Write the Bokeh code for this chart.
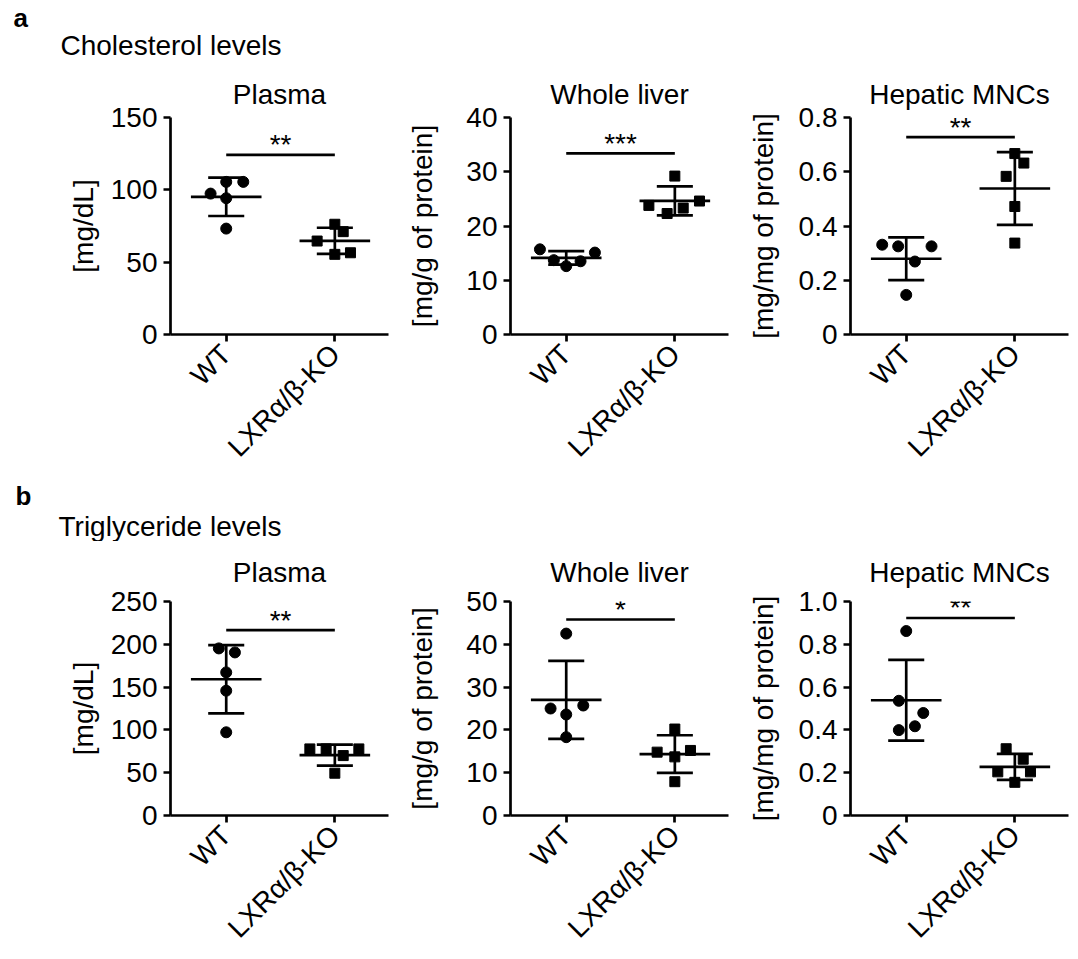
import math
import numpy as np
from bokeh.plotting import figure
from bokeh.models import Range1d, FixedTicker, ColumnDataSource, CustomJSTickFormatter, Title
from bokeh.layouts import row, column
from bokeh.core.properties import value
from bokeh.embed import file_html
from bokeh.resources import INLINE

# ---------------- data ----------------
groups = ["WT", "LXRα/β-KO"]
section_letters = ["a", "b"]
section_titles = ["Cholesterol levels", "Triglyceride levels"]
panel_titles = ["Plasma", "Whole liver", "Hepatic MNCs"]
y_labels = ["[mg/dL]", "[mg/g of protein]", "[mg/mg of protein]"]

chol_plasma_wt = [97.4, 105.5, 105.5, 94.2, 73.2]
chol_plasma_ko = [64.6, 76.2, 71.1, 55.4, 56.5]
chol_liver_wt = [15.7, 13.7, 12.6, 13.5, 15.1]
chol_liver_ko = [23.8, 29.2, 22.3, 23.3, 24.6]
chol_mnc_wt = [0.331, 0.325, 0.325, 0.269, 0.146]
chol_mnc_ko = [0.667, 0.632, 0.583, 0.472, 0.337]

tg_plasma_wt = [195.2, 190.5, 167.2, 145.8, 97.2]
tg_plasma_ko = [77.8, 77.8, 70.0, 77.8, 49.4]
tg_liver_wt = [42.5, 25.0, 25.7, 23.6, 18.3]
tg_liver_ko = [20.2, 14.8, 15.2, 13.7, 7.9]
tg_mnc_wt = [0.862, 0.536, 0.479, 0.399, 0.417]
tg_mnc_ko = [0.312, 0.263, 0.204, 0.204, 0.155]

significance = [["**", "***", "**"], ["**", "*", "**"]]
sig_bar_heights = [[124.2, 33.4, 0.728], [216.6, 45.8, 0.923]]
y_max = [[150, 40, 0.8], [250, 50, 1.0]]
y_step = [[50, 10, 0.2], [50, 10, 0.2]]

# horizontal scatter of the dots around each group position (layout only)
jitter = {
    "chol_plasma": ([-0.144, 0, 0.157, 0, 0], [-0.163, 0, 0.077, 0, 0.144]),
    "chol_liver": ([-0.242, -0.114, 0, 0.132, 0.264], [-0.239, 0, -0.071, 0.077, 0.227]),
    "chol_mnc": ([-0.221, -0.074, 0.233, 0.08, 0], [0, 0.083, -0.08, 0, 0]),
    "tg_plasma": ([-0.068, 0.08, 0, 0, 0], [-0.23, -0.08, 0.077, 0.221, 0]),
    "tg_liver": ([0, -0.144, 0.157, 0, 0], [0, -0.163, 0.144, 0, 0]),
    "tg_mnc": ([0, -0.068, 0.157, -0.068, 0.08], [-0.08, 0.077, -0.157, 0.144, 0]),
}

panel_data = [
    [("chol_plasma", chol_plasma_wt, chol_plasma_ko),
     ("chol_liver", chol_liver_wt, chol_liver_ko),
     ("chol_mnc", chol_mnc_wt, chol_mnc_ko)],
    [("tg_plasma", tg_plasma_wt, tg_plasma_ko),
     ("tg_liver", tg_liver_wt, tg_liver_ko),
     ("tg_mnc", tg_mnc_wt, tg_mnc_ko)],
]

# ---------------- styling / layout ----------------
FONT = "Liberation Sans"
FS = "28px"
LW = 2.7
X_START, X_END = 0.487, 2.494
FRAME_W = 218
left_borders = [170, 118, 118]
right_borders = [4, 4, 2]
top_borders = [55, 60]
frame_heights = [217, 214]
bottom_borders = [144, 144]
title_standoffs = [16, 27]
label_standoffs = [9, 25, 17]
TOTAL_W = sum(left_borders) + 3 * FRAME_W + sum(right_borders)
TEXT_SHIFT = 8  # compensation for where the svg text baseline lands

# header strips: (height, letter x, letter baseline from top, title x, title baseline from top)
headers = [(62, 13, 25, 60, 53), (63, 15, 25, 58, 56)]

x_fmt = CustomJSTickFormatter(args=dict(labels=groups),
                              code="return labels[Math.round(tick) - 1];")
frac_fmt = CustomJSTickFormatter(code="return tick == 0 ? '0' : tick.toFixed(1);")
int_fmt = CustomJSTickFormatter(code="return tick.toFixed(0);")


def make_header(r):
    h, lx, ly, tx, ty = headers[r]
    p = figure(width=TOTAL_W, height=h, x_range=Range1d(0, TOTAL_W), y_range=Range1d(0, h),
               output_backend="svg", toolbar_location=None,
               x_axis_location=None, y_axis_location=None,
               min_border_left=0, min_border_right=0, min_border_top=0, min_border_bottom=0)
    p.outline_line_color = None
    p.grid.visible = False
    p.text(x=[lx], y=[h - ly + TEXT_SHIFT], text=[section_letters[r]], text_align="left",
           text_baseline="alphabetic", text_font=value(FONT), text_font_size="26px",
           text_font_style="bold", text_color="black")
    p.text(x=[tx], y=[h - ty + TEXT_SHIFT], text=[section_titles[r]], text_align="left",
           text_baseline="alphabetic", text_font=value(FONT), text_font_size=FS,
           text_color="black")
    return p


def make_panel(r, c):
    key, wt, ko = panel_data[r][c]
    top = y_max[r][c]
    step = y_step[r][c]
    p = figure(
        width=left_borders[c] + FRAME_W + right_borders[c],
        height=top_borders[r] + frame_heights[r] + bottom_borders[r],
        x_range=Range1d(X_START, X_END), y_range=Range1d(0, top),
        output_backend="svg", toolbar_location=None,
        min_border_left=left_borders[c], min_border_right=right_borders[c],
        min_border_top=top_borders[r], min_border_bottom=bottom_borders[r],
    )
    p.outline_line_color = None
    p.grid.visible = False
    p.add_layout(Title(text=panel_titles[c], align="center", text_font=FONT,
                       text_font_size=FS, text_font_style="normal", text_color="black",
                       standoff=title_standoffs[r]), "above")

    nt = int(round(top / step))
    p.yaxis.ticker = FixedTicker(ticks=[round(i * step, 6) for i in range(nt + 1)])
    p.yaxis.formatter = frac_fmt if step < 1 else int_fmt
    p.xaxis.ticker = FixedTicker(ticks=[1, 2])
    p.xaxis.formatter = x_fmt
    p.xaxis.major_label_orientation = math.pi / 4

    for ax in p.axis:
        ax.axis_line_width = LW
        ax.axis_line_color = "black"
        ax.major_tick_line_width = LW
        ax.major_tick_line_color = "black"
        ax.major_tick_in = 0
        ax.major_tick_out = 7
        ax.minor_tick_line_color = None
        ax.major_label_text_font = FONT
        ax.major_label_text_font_size = FS
        ax.major_label_text_color = "black"
        ax.major_label_standoff = 6
    p.xaxis.major_label_standoff = 8
    p.yaxis.axis_label = y_labels[c]
    p.yaxis.axis_label_text_font = FONT
    p.yaxis.axis_label_text_font_size = FS
    p.yaxis.axis_label_text_font_style = "normal"
    p.yaxis.axis_label_text_color = "black"
    p.yaxis.axis_label_standoff = label_standoffs[c]

    for g, (vals, marker, msize) in enumerate([(wt, "circle", 11), (ko, "square", 10)]):
        pos = g + 1
        v = np.array(vals, dtype=float)
        m = v.mean()
        sd = v.std(ddof=1)
        xs = pos + np.array(jitter[key][g])
        seg = ColumnDataSource(dict(
            x0=[pos - 0.325, pos, pos - 0.166, pos - 0.166],
            x1=[pos + 0.325, pos, pos + 0.166, pos + 0.166],
            y0=[m, m - sd, m + sd, m - sd],
            y1=[m, m + sd, m + sd, m - sd],
        ))
        p.segment("x0", "y0", "x1", "y1", source=seg, line_width=LW, line_color="black")
        p.scatter(xs, v, marker=marker, size=msize, fill_color="black", line_color="black")

    h = sig_bar_heights[r][c]
    p.segment(x0=[1], y0=[h], x1=[2], y1=[h], line_width=LW, line_color="black")
    p.text(x=[1.5], y=[h], text=[significance[r][c]], text_align="center",
           text_baseline="alphabetic", y_offset=-10, text_font=value(FONT),
           text_font_size=FS, text_color="black")
    return p


layout = column(
    make_header(0),
    row([make_panel(0, c) for c in range(3)]),
    make_header(1),
    row([make_panel(1, c) for c in range(3)]),
)

open("out.html", "w").write(file_html(layout, INLINE))
